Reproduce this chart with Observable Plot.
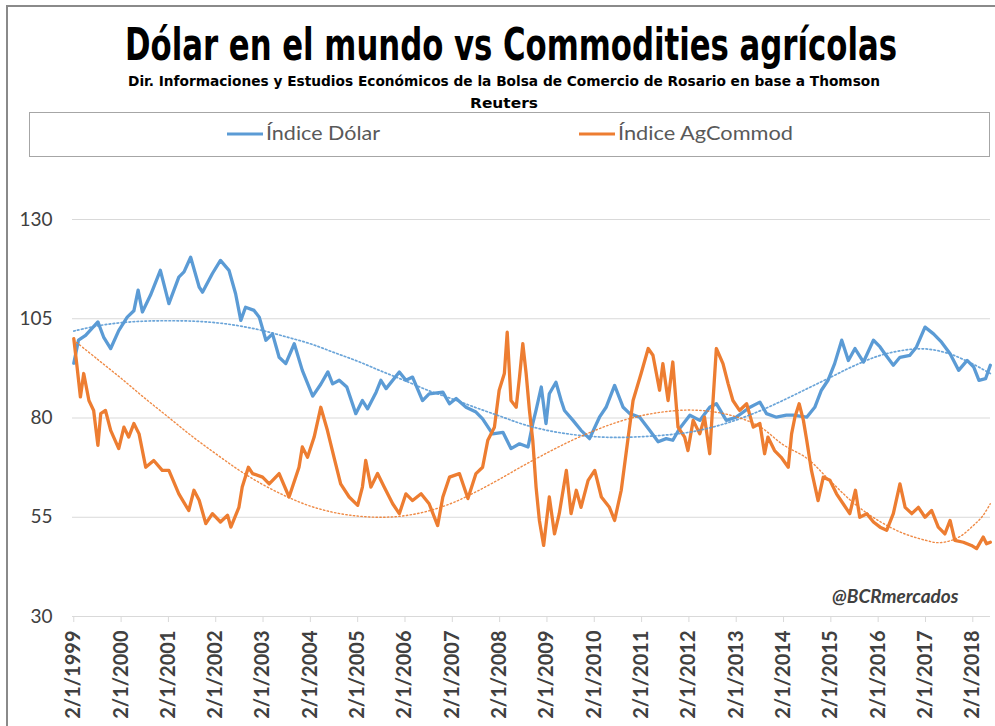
<!DOCTYPE html>
<html><head><meta charset="utf-8">
<script src="https://cdn.jsdelivr.net/npm/d3@7"></script>
<script src="https://cdn.jsdelivr.net/npm/@observablehq/plot@0.6"></script>
<style>
body{margin:0;background:#fff;}
#wrap{position:relative;width:995px;height:726px;overflow:hidden;background:#fff;}
#frame{position:absolute;left:6px;top:5px;width:1000px;height:740px;border-left:2px solid #8a8a8a;border-top:2px solid #8a8a8a;}
#head{position:absolute;left:0;top:0;}
#plot{position:absolute;left:0;top:170px;}
</style></head>
<body><div id="wrap"><div id="frame"></div>
<svg id="head" width="995" height="170"></svg>
<div id="plot"></div></div>
<script>
const titleText = "Dólar en el mundo vs Commodities agrícolas";
const subtitleLines = ["Dir. Informaciones y Estudios Económicos de la Bolsa de Comercio de Rosario en base a Thomson", "Reuters"];
const seriesNames = ["Índice Dólar", "Índice AgCommod"];
const seriesColors = ["#5B9BD5", "#ED7D31"];
const watermark = "@BCRmercados";
const yTicks = [30, 55, 80, 105, 130];
const xTickYears = d3.range(1999, 2019);
const xTickLabels = xTickYears.map(y => "2/1/" + y);

// Índice Dólar (decimal year, value)
const dolarX = [1999.00,1999.10,1999.25,1999.51,1999.63,1999.78,1999.95,2000.13,2000.27,2000.36,2000.45,2000.62,2000.83,2001.01,2001.22,2001.33,2001.47,2001.65,2001.72,2001.93,2002.10,2002.28,2002.42,2002.53,2002.63,2002.81,2002.92,2003.06,2003.20,2003.34,2003.48,2003.66,2003.83,2004.05,2004.22,2004.37,2004.47,2004.61,2004.77,2004.96,2005.10,2005.21,2005.39,2005.49,2005.60,2005.88,2006.02,2006.16,2006.37,2006.51,2006.80,2006.94,2007.08,2007.29,2007.50,2007.64,2007.85,2008.07,2008.24,2008.42,2008.60,2008.70,2008.77,2008.88,2008.98,2009.05,2009.19,2009.30,2009.37,2009.55,2009.72,2009.90,2010.11,2010.25,2010.43,2010.61,2010.75,2010.96,2011.17,2011.35,2011.52,2011.66,2011.80,2012.02,2012.23,2012.44,2012.58,2012.79,2013.00,2013.29,2013.50,2013.64,2013.85,2014.06,2014.20,2014.49,2014.66,2014.80,2014.94,2015.08,2015.23,2015.37,2015.51,2015.69,2015.90,2016.04,2016.14,2016.32,2016.46,2016.67,2016.81,2016.99,2017.17,2017.34,2017.52,2017.70,2017.88,2018.02,2018.13,2018.27,2018.37];
const dolarY = [93.8,99.6,100.8,104.2,100.4,97.5,102,105.4,107,112.2,106.7,110.9,117.2,108.8,115.5,116.8,120.5,113,111.7,116.4,119.7,117.2,111.3,104.6,107.9,107.1,105.4,99.6,101.2,95.3,93.7,98.7,92,85.5,88.5,91.6,88.6,89.5,87.8,81.1,84.4,82.3,86.5,89.5,87.4,91.6,89.5,90.3,84.4,86.1,86.5,83.6,84.9,82.7,81.5,79.8,76,76.4,72.3,73.5,72.7,78.6,82,87.8,78.6,86.1,89,84.4,81.9,79.4,76.9,74.8,80.2,82.7,88.2,82.7,81.1,80.2,76.9,74,74.8,74.4,77.3,80.7,79.4,82.7,83.6,79.4,80.2,82.7,84,81.1,80.2,80.7,80.7,80.2,82.7,87,89.5,93.7,99.6,94.5,97.5,94.1,99.6,97.9,96.2,93.3,95.3,95.8,97.9,102.9,101.2,99.1,96.2,92,94.5,92.8,89.5,89.9,93.3];

// Índice AgCommod (decimal year, value)
const agX = [1999.00,1999.07,1999.14,1999.21,1999.32,1999.42,1999.51,1999.57,1999.67,1999.78,1999.95,2000.06,2000.16,2000.27,2000.38,2000.52,2000.69,2000.87,2001.01,2001.22,2001.43,2001.54,2001.65,2001.79,2001.93,2002.10,2002.25,2002.32,2002.49,2002.56,2002.69,2002.78,2002.99,2003.13,2003.34,2003.55,2003.76,2003.83,2003.94,2004.08,2004.22,2004.36,2004.50,2004.64,2004.82,2005.00,2005.10,2005.17,2005.28,2005.42,2005.56,2005.74,2005.88,2006.02,2006.16,2006.34,2006.51,2006.69,2006.80,2006.94,2007.15,2007.33,2007.50,2007.64,2007.75,2007.89,2007.99,2008.10,2008.16,2008.24,2008.35,2008.42,2008.49,2008.56,2008.63,2008.70,2008.77,2008.84,2008.93,2009.05,2009.16,2009.26,2009.41,2009.51,2009.62,2009.72,2009.87,2010.01,2010.15,2010.32,2010.43,2010.57,2010.68,2010.82,2010.99,2011.14,2011.24,2011.38,2011.45,2011.56,2011.66,2011.77,2011.91,2011.98,2012.09,2012.23,2012.33,2012.44,2012.51,2012.58,2012.72,2012.83,2012.93,2013.07,2013.22,2013.36,2013.50,2013.60,2013.67,2013.81,2013.95,2014.10,2014.17,2014.24,2014.33,2014.42,2014.49,2014.59,2014.73,2014.84,2014.98,2015.12,2015.26,2015.40,2015.52,2015.61,2015.76,2015.90,2016.04,2016.18,2016.32,2016.46,2016.57,2016.71,2016.85,2016.99,2017.13,2017.27,2017.41,2017.52,2017.62,2017.80,2017.97,2018.08,2018.22,2018.29,2018.37];
const agY = [100,92.8,85.3,91.2,84.4,81.9,73.1,81.1,81.9,76.9,72.3,77.7,75.2,78.6,76,67.6,69.3,66.8,66.8,60.9,56.7,61.8,59.3,53.4,55.9,53.8,55.5,52.5,57.5,62.6,67.6,66,65.1,63.4,66,60.1,67.6,72.7,70.1,75.2,82.7,76.9,70.1,63.4,60.1,58,62.6,69.3,62.6,66,62.6,58.4,55.9,60.9,59.2,60.9,58.4,52.9,60.1,65.1,66,59.7,66,67.6,74.4,77.7,87,91.2,101.6,84.4,82.7,90.3,98.7,91.2,81.9,74.4,62.6,54.2,47.9,60.1,50.8,55.9,66.8,55.9,61.8,57.5,64.3,66.8,60.1,57.5,54.2,61.8,71.8,84.4,91.2,97.5,95.8,87,93.7,84.4,94.1,77.7,75.2,71.8,79.4,76,80.2,71,84.4,97.5,93.7,88.6,84.4,81.9,83.6,77.7,78.6,71,75.2,71.8,70.1,67.6,76,80.2,83.6,79.4,74.4,66.8,59.2,65.1,64.3,60.9,58.4,55.9,61.8,55,55.9,53.8,52.5,51.7,55.9,63.4,57.5,55.9,57.5,55,56.7,52.5,50.8,54.2,49.2,48.7,47.9,47.1,50,48.3,48.7];

// Dotted trend lines
const trendX = [1999.0,1999.5,2000.0,2000.5,2001.0,2001.5,2002.0,2002.5,2003.0,2003.5,2004.0,2004.5,2005.0,2005.5,2006.0,2006.5,2007.0,2007.5,2008.0,2008.5,2009.0,2009.5,2010.0,2010.5,2011.0,2011.5,2012.0,2012.5,2013.0,2013.5,2014.0,2014.5,2015.0,2015.5,2016.0,2016.5,2017.0,2017.5,2018.0,2018.37];
const dolarTrendY = [101.9,103.2,104.0,104.4,104.5,104.4,104.0,103.2,102.0,100.4,98.7,96.5,94.3,91.8,89.4,86.9,84.8,82.6,80.5,78.4,76.9,75.9,75.3,75.1,75.3,75.7,76.4,77.7,79.5,81.8,84.5,87.4,90.3,93.2,95.6,97.0,97.4,96.2,93.6,91.2];
const agTrendX = [1999.0,1999.5,2000.0,2000.5,2001.0,2001.5,2002.0,2002.5,2003.0,2003.5,2004.0,2004.5,2005.0,2005.5,2006.0,2006.5,2007.0,2007.5,2008.0,2008.5,2009.0,2009.5,2010.0,2010.5,2011.0,2011.5,2012.0,2012.5,2013.0,2013.5,2014.0,2014.5,2015.0,2015.5,2016.0,2016.5,2017.0,2017.25,2017.5,2017.75,2018.0,2018.2,2018.37];
const agTrendY = [99.6,94.8,90.0,85.0,80.2,75.4,71.0,66.8,63.2,60.2,57.8,56.2,55.3,55.0,55.4,56.6,58.6,61.4,64.6,68.0,71.2,74.2,76.8,79.0,80.6,81.6,82.0,81.6,80.3,77.8,73.2,69.8,64.0,58.4,54.2,51.1,49.2,48.6,49.0,50.3,52.8,55.2,58.4];

const zip = (xs, ys) => xs.map((x, i) => ({x, y: ys[i]}));
const dolar = zip(dolarX, dolarY), ag = zip(agX, agY);
const dolarTrend = zip(trendX, dolarTrendY), agTrend = zip(agTrendX, agTrendY);

// Header: title, subtitle, legend
const head = d3.select("#head");
head.append("g").attr("transform", "translate(511,60) scale(1,1.3)")
  .append("text").attr("x", 0).attr("y", 0).attr("text-anchor", "middle")
  .attr("font-family", "'DejaVu Sans Condensed', 'DejaVu Sans', sans-serif").attr("font-weight", "bold")
  .attr("font-size", 34).attr("textLength", 772).attr("lengthAdjust", "spacingAndGlyphs").attr("fill", "#000").text(titleText);
const subW = [752, 68];
subtitleLines.forEach((s, i) => head.append("text").attr("x", 504).attr("y", 86 + i * 22).attr("text-anchor", "middle")
  .attr("font-family", "'DejaVu Sans Condensed', 'DejaVu Sans', sans-serif").attr("font-weight", "bold")
  .attr("font-size", 14.5).attr("textLength", subW[i]).attr("lengthAdjust", "spacingAndGlyphs").attr("fill", "#000").text(s));
head.append("rect").attr("x", 29.5).attr("y", 112.5).attr("width", 960).attr("height", 44).attr("fill", "#fff").attr("stroke", "#a6a6a6");
const legX = [227, 579], legW = [114, 175];
seriesNames.forEach((n, i) => {
  head.append("line").attr("x1", legX[i]).attr("x2", legX[i] + 36).attr("y1", 134).attr("y2", 134).attr("stroke", seriesColors[i]).attr("stroke-width", 3);
  head.append("text").attr("x", legX[i] + 39).attr("y", 140).attr("font-family", "Lato, sans-serif").attr("font-size", 19)
    .attr("textLength", legW[i]).attr("lengthAdjust", "spacingAndGlyphs").attr("fill", "#595959").text(n);
});

const chart = Plot.plot({
  width: 995, height: 556,
  marginLeft: 72, marginRight: 5, marginTop: 49, marginBottom: 110,
  style: {fontFamily: "Lato, sans-serif", fontSize: "19px", color: "#404040", background: "transparent", overflow: "visible"},
  x: {type: "linear", domain: [1998.973, 2018.374]},
  y: {domain: [30, 130]},
  marks: [
    Plot.ruleY(yTicks, {stroke: "#d9d9d9", strokeWidth: 1.2}),
    Plot.axisY(yTicks, {tickSize: 0, tickPadding: 20, label: null, fontSize: 19, fill: "#404040"}),
    Plot.axisX(xTickYears, {tickSize: 6, tickPadding: 8, tickRotate: -90, label: null, tickFormat: (d) => xTickLabels[xTickYears.indexOf(d)], fontSize: 20, fontWeight: "bold", fill: "#404040", stroke: "#d9d9d9"}),
    Plot.line(dolar, {x: "x", y: "y", stroke: seriesColors[0], strokeWidth: 3.3, strokeLinejoin: "round"}),
    Plot.line(ag, {x: "x", y: "y", stroke: seriesColors[1], strokeWidth: 3.3, strokeLinejoin: "round"}),
    Plot.line(dolarTrend, {x: "x", y: "y", curve: "catmull-rom", stroke: seriesColors[0], strokeWidth: 1.7, strokeDasharray: "1.6,2.4", strokeOpacity: 0.9}),
    Plot.line(agTrend, {x: "x", y: "y", curve: "catmull-rom", stroke: seriesColors[1], strokeWidth: 1.4, strokeDasharray: "1.4,2.4", strokeOpacity: 0.9}),
    Plot.text([watermark], {frameAnchor: "bottom-right", dx: -32, dy: -14, fontStyle: "italic", fontWeight: "bold", fontSize: 19, fill: "#404040", textAnchor: "end"})
  ]
});
document.getElementById("plot").appendChild(chart);
</script>
</body></html>
